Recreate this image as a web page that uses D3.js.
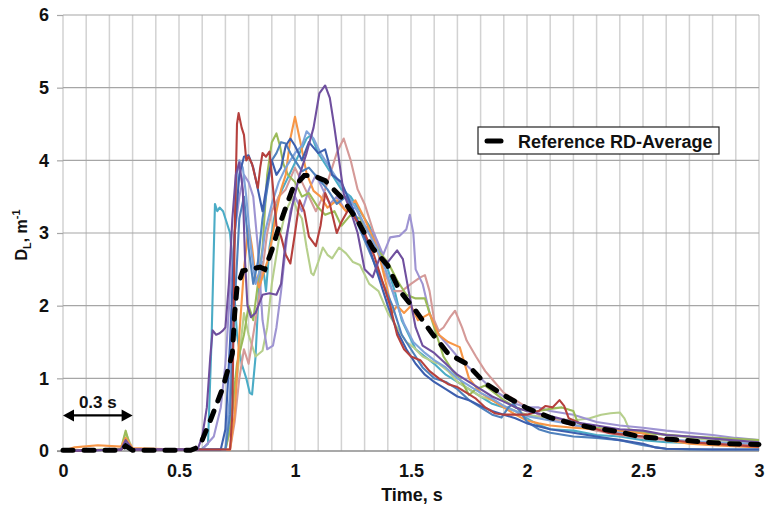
<!DOCTYPE html>
<html>
<head>
<meta charset="utf-8">
<script src="https://cdn.jsdelivr.net/npm/d3@7"></script>
<style>
    body { margin: 0; background: #fff; }
    svg text { font-family: "Liberation Sans", Arial, sans-serif; font-weight: bold; fill: #111; }
</style>
</head>
<body>
<div id="chart"></div>
<script>
// ---- data: [time s, D_L m^-1] ----
const xTicks = [0, 0.5, 1, 1.5, 2, 2.5, 3];
const yTicks = [0, 1, 2, 3, 4, 5, 6];
const xLabels = ['0', '0.5', '1', '1.5', '2', '2.5', '3'];

const teal = [[0,0],[0.25,0.02],[0.27,0.12],[0.3,0.02],[0.6,0.03],[0.625,0.1],[0.64,1.5],[0.655,3.4],[0.665,3.3],[0.675,3.35],[0.69,3.3],[0.7,3.2],[0.72,3.0],[0.73,2.6],[0.75,1.6],[0.77,1.2],[0.79,1.0],[0.805,0.8],[0.815,0.78],[0.83,1.3],[0.845,2.3],[0.86,2.6],[0.875,2.2],[0.89,2.8],[0.91,3.2],[0.93,3.5],[0.96,3.7],[0.99,3.9],[1.02,4.1],[1.05,4.3],[1.07,4.35],[1.1,4.1],[1.13,3.95],[1.16,3.8],[1.2,3.6],[1.24,3.5],[1.28,3.3],[1.32,3.1],[1.36,2.8],[1.4,2.5],[1.43,2.2],[1.46,1.8],[1.49,1.6],[1.52,1.4],[1.56,1.3],[1.6,1.2],[1.65,1.05],[1.7,0.95],[1.75,0.85],[1.8,0.75],[1.85,0.65],[1.9,0.6],[1.95,0.55],[2.0,0.45],[2.05,0.36],[2.1,0.3],[2.2,0.28],[2.3,0.22],[2.4,0.2],[2.5,0.15],[2.6,0.12],[2.8,0.1],[3.0,0.08]];
const red = [[0,0],[0.25,0.02],[0.27,0.08],[0.3,0.02],[0.72,0.02],[0.73,0.5],[0.74,3.0],[0.75,4.5],[0.757,4.65],[0.77,4.45],[0.78,4.35],[0.79,4.0],[0.8,4.05],[0.815,3.95],[0.83,3.75],[0.84,3.62],[0.85,3.9],[0.86,4.1],[0.875,4.05],[0.89,4.12],[0.9,3.8],[0.92,3.1],[0.94,2.95],[0.96,2.7],[0.98,2.58],[1.0,3.0],[1.02,3.45],[1.04,3.3],[1.06,2.95],[1.09,2.82],[1.11,3.1],[1.13,3.55],[1.15,3.4],[1.18,3.0],[1.2,3.15],[1.235,3.35],[1.26,3.2],[1.3,3.0],[1.34,2.7],[1.38,2.3],[1.41,2.0],[1.44,1.6],[1.47,1.4],[1.5,1.3],[1.54,1.25],[1.58,1.1],[1.62,1.0],[1.66,0.92],[1.7,0.88],[1.74,0.8],[1.78,0.72],[1.82,0.6],[1.86,0.52],[1.9,0.5],[1.95,0.5],[2.0,0.5],[2.05,0.55],[2.08,0.62],[2.11,0.6],[2.14,0.7],[2.16,0.62],[2.18,0.45],[2.25,0.35],[2.35,0.25],[2.5,0.2],[2.7,0.12],[3.0,0.06]];
const green = [[0,0],[0.25,0.03],[0.27,0.28],[0.29,0.05],[0.3,0.02],[0.7,0.02],[0.72,0.3],[0.75,1.2],[0.78,1.6],[0.8,2.0],[0.82,1.8],[0.84,2.3],[0.86,2.8],[0.88,3.8],[0.9,4.25],[0.92,4.37],[0.935,4.2],[0.95,3.95],[0.97,3.8],[1.0,3.7],[1.03,3.5],[1.06,3.55],[1.1,3.35],[1.13,3.25],[1.17,3.3],[1.2,3.1],[1.24,3.25],[1.28,3.2],[1.32,3.0],[1.36,2.75],[1.4,2.6],[1.44,2.35],[1.48,2.15],[1.52,2.1],[1.56,2.1],[1.6,1.7],[1.64,1.3],[1.68,1.1],[1.72,0.95],[1.75,0.77],[1.78,0.85],[1.82,0.9],[1.86,0.8],[1.9,0.7],[1.95,0.6],[2.0,0.55],[2.05,0.55],[2.1,0.58],[2.15,0.6],[2.2,0.55],[2.22,0.38],[2.3,0.32],[2.4,0.28],[2.5,0.25],[2.7,0.2],[3.0,0.15]];
const orange = [[0,0],[0.05,0.05],[0.15,0.08],[0.25,0.06],[0.27,0.18],[0.3,0.04],[0.5,0.02],[0.72,0.02],[0.74,0.5],[0.76,1.6],[0.78,2.5],[0.8,3.1],[0.815,2.8],[0.83,2.4],[0.845,2.25],[0.86,2.4],[0.88,2.6],[0.9,2.9],[0.92,3.3],[0.94,3.6],[0.96,3.8],[0.98,4.3],[1.0,4.6],[1.02,4.3],[1.05,3.82],[1.08,3.58],[1.11,3.5],[1.14,3.35],[1.18,3.45],[1.22,3.3],[1.26,3.45],[1.3,3.2],[1.34,2.9],[1.37,2.6],[1.4,2.2],[1.42,1.9],[1.44,2.0],[1.47,1.9],[1.5,2.0],[1.53,1.8],[1.58,1.89],[1.62,1.6],[1.66,1.5],[1.71,1.43],[1.75,1.0],[1.8,0.8],[1.85,0.7],[1.9,0.6],[1.95,0.5],[2.0,0.42],[2.05,0.38],[2.1,0.35],[2.2,0.32],[2.3,0.3],[2.4,0.28],[2.5,0.24],[2.6,0.15],[2.7,0.1],[2.8,0.08],[3.0,0.05]];
const purple = [[0,0],[0.25,0.02],[0.27,0.15],[0.3,0.02],[0.58,0.02],[0.6,0.2],[0.62,0.6],[0.635,1.3],[0.645,1.66],[0.66,1.6],[0.675,1.62],[0.69,1.66],[0.7,1.7],[0.715,2.3],[0.73,3.2],[0.745,3.8],[0.76,3.97],[0.775,3.6],[0.785,2.6],[0.795,2.0],[0.81,1.84],[0.83,1.9],[0.86,2.15],[0.89,2.17],[0.92,2.15],[0.94,2.3],[0.96,2.9],[0.99,3.4],[1.02,3.8],[1.05,4.1],[1.08,4.45],[1.105,4.92],[1.13,5.03],[1.15,4.86],[1.17,4.45],[1.19,4.0],[1.21,3.54],[1.24,3.3],[1.27,3.0],[1.3,2.5],[1.335,2.39],[1.365,2.66],[1.4,2.6],[1.44,2.76],[1.465,2.64],[1.49,2.2],[1.52,1.7],[1.55,1.45],[1.6,1.35],[1.65,1.2],[1.7,1.05],[1.75,0.95],[1.8,0.85],[1.85,0.75],[1.9,0.68],[1.95,0.6],[2.0,0.55],[2.1,0.48],[2.2,0.4],[2.3,0.35],[2.4,0.3],[2.5,0.28],[2.6,0.22],[2.7,0.2],[2.8,0.17],[3.0,0.12]];
const lavender = [[0,0],[0.25,0.02],[0.27,0.1],[0.3,0.02],[0.6,0.02],[0.65,0.2],[0.68,0.6],[0.7,1.2],[0.72,2.2],[0.74,3.0],[0.76,3.5],[0.78,3.8],[0.8,3.7],[0.82,3.5],[0.84,2.8],[0.86,1.8],[0.88,1.4],[0.905,1.45],[0.92,1.7],[0.94,2.2],[0.96,2.8],[0.98,3.3],[1.0,3.5],[1.03,3.3],[1.06,3.6],[1.09,3.8],[1.12,3.6],[1.15,3.4],[1.18,3.5],[1.22,3.3],[1.26,3.35],[1.3,3.1],[1.34,3.0],[1.38,2.7],[1.41,2.94],[1.45,2.96],[1.48,3.05],[1.495,3.25],[1.51,3.0],[1.52,2.5],[1.55,2.3],[1.58,1.9],[1.62,1.6],[1.66,1.45],[1.7,1.3],[1.75,1.15],[1.8,1.0],[1.85,0.85],[1.9,0.75],[1.95,0.65],[2.0,0.6],[2.05,0.6],[2.1,0.55],[2.2,0.5],[2.3,0.4],[2.4,0.35],[2.5,0.32],[2.6,0.28],[2.7,0.25],[2.8,0.22],[2.9,0.18],[3.0,0.15]];
const blue = [[0,0],[0.25,0.02],[0.27,0.1],[0.3,0.02],[0.7,0.02],[0.72,0.5],[0.74,2.0],[0.76,3.2],[0.78,3.5],[0.8,2.8],[0.82,2.3],[0.84,2.6],[0.86,3.2],[0.88,3.6],[0.9,4.0],[0.92,4.1],[0.94,4.25],[0.96,4.23],[0.98,4.1],[1.0,4.0],[1.03,3.85],[1.06,3.9],[1.1,3.75],[1.14,3.6],[1.18,3.4],[1.22,3.5],[1.26,3.2],[1.3,2.9],[1.34,2.6],[1.38,2.3],[1.42,2.0],[1.46,1.6],[1.5,1.4],[1.55,1.15],[1.6,1.0],[1.65,0.95],[1.7,0.85],[1.75,0.7],[1.8,0.6],[1.85,0.5],[1.89,0.46],[1.92,0.6],[1.94,0.65],[1.97,0.55],[2.0,0.4],[2.05,0.3],[2.1,0.25],[2.2,0.2],[2.3,0.18],[2.4,0.15],[2.5,0.08],[2.6,0.03],[2.7,0.02],[2.8,0.02],[3.0,0.02]];
const pink = [[0,0],[0.25,0.02],[0.27,0.12],[0.3,0.02],[0.72,0.02],[0.74,0.4],[0.76,1.0],[0.78,1.4],[0.8,1.2],[0.82,1.6],[0.84,2.0],[0.86,2.5],[0.88,3.0],[0.9,3.3],[0.93,3.5],[0.96,3.6],[1.0,3.9],[1.03,3.7],[1.06,3.5],[1.09,3.3],[1.12,3.5],[1.15,3.8],[1.18,4.1],[1.21,4.3],[1.24,4.0],[1.27,3.6],[1.3,3.4],[1.34,3.0],[1.38,2.5],[1.42,2.2],[1.46,2.2],[1.5,2.3],[1.54,2.39],[1.56,2.42],[1.58,2.2],[1.6,1.8],[1.62,1.65],[1.64,1.7],[1.67,1.85],[1.69,1.93],[1.72,1.7],[1.74,1.52],[1.78,1.3],[1.82,1.1],[1.86,0.95],[1.9,0.8],[1.95,0.7],[2.0,0.6],[2.05,0.5],[2.1,0.45],[2.2,0.35],[2.3,0.28],[2.4,0.22],[2.5,0.18],[2.6,0.15],[2.8,0.1],[3.0,0.08]];
const lightGreen = [[0,0],[0.25,0.02],[0.27,0.25],[0.3,0.03],[0.7,0.02],[0.72,0.3],[0.75,1.0],[0.78,1.9],[0.8,1.6],[0.83,1.3],[0.86,1.38],[0.88,1.7],[0.9,2.3],[0.93,2.9],[0.96,3.3],[0.99,3.5],[1.01,3.3],[1.03,3.2],[1.05,2.8],[1.07,2.45],[1.08,2.42],[1.1,2.6],[1.12,2.8],[1.14,2.7],[1.16,2.65],[1.19,2.8],[1.22,2.72],[1.25,2.6],[1.28,2.56],[1.32,2.3],[1.36,2.2],[1.4,1.9],[1.44,1.7],[1.48,1.5],[1.51,1.43],[1.55,1.3],[1.6,1.22],[1.62,1.2],[1.66,1.1],[1.7,0.95],[1.75,0.85],[1.8,0.75],[1.85,0.7],[1.9,0.62],[1.95,0.55],[2.0,0.5],[2.1,0.45],[2.2,0.42],[2.27,0.45],[2.32,0.5],[2.36,0.52],[2.4,0.53],[2.42,0.45],[2.44,0.3],[2.5,0.26],[2.6,0.22],[2.8,0.15],[3.0,0.12]];
const lightBlue = [[0,0],[0.25,0.02],[0.27,0.1],[0.3,0.02],[0.7,0.02],[0.72,0.8],[0.735,2.5],[0.75,3.8],[0.76,4.0],[0.775,3.9],[0.79,3.5],[0.81,2.8],[0.83,2.3],[0.85,2.5],[0.87,3.0],[0.9,3.4],[0.93,3.7],[0.96,3.9],[1.0,4.1],[1.03,4.2],[1.05,4.4],[1.08,4.3],[1.11,4.1],[1.15,3.9],[1.19,3.7],[1.23,3.5],[1.27,3.3],[1.31,3.05],[1.35,2.8],[1.39,2.5],[1.43,2.1],[1.47,1.75],[1.51,1.5],[1.56,1.35],[1.6,1.25],[1.65,1.15],[1.7,1.0],[1.75,0.9],[1.8,0.8],[1.85,0.72],[1.9,0.62],[1.95,0.55],[2.0,0.48],[2.1,0.42],[2.2,0.36],[2.3,0.3],[2.4,0.25],[2.5,0.2],[2.6,0.16],[2.8,0.12],[3.0,0.1]];
const darkBlue = [[0,0],[0.25,0.02],[0.27,0.1],[0.3,0.02],[0.68,0.02],[0.7,0.3],[0.72,1.5],[0.74,3.0],[0.76,3.8],[0.78,4.05],[0.8,4.07],[0.82,3.9],[0.84,3.6],[0.86,3.3],[0.88,3.7],[0.9,4.0],[0.92,3.8],[0.94,3.9],[0.96,4.2],[0.98,4.3],[1.0,4.2],[1.03,4.0],[1.06,4.25],[1.1,4.1],[1.13,4.15],[1.16,3.8],[1.2,3.7],[1.24,3.4],[1.28,3.1],[1.32,2.8],[1.36,2.4],[1.4,2.0],[1.44,1.65],[1.48,1.4],[1.52,1.2],[1.56,1.05],[1.6,0.95],[1.65,0.85],[1.7,0.75],[1.75,0.7],[1.8,0.62],[1.85,0.55],[1.9,0.5],[1.95,0.45],[2.0,0.38],[2.1,0.3],[2.2,0.25],[2.3,0.2],[2.4,0.15],[2.5,0.1],[2.55,0.05],[2.6,0.03],[2.8,0.02],[3.0,0.02]];
const average = [[0,0.01],[0.25,0.01],[0.27,0.07],[0.3,0.01],[0.55,0.01],[0.58,0.05],[0.6,0.15],[0.64,0.46],[0.69,0.88],[0.73,1.34],[0.74,1.89],[0.75,2.25],[0.775,2.48],[0.85,2.53],[0.87,2.5],[0.9,2.76],[0.93,3.08],[0.96,3.35],[0.99,3.61],[1.04,3.79],[1.08,3.79],[1.13,3.72],[1.2,3.49],[1.27,3.17],[1.335,2.79],[1.4,2.55],[1.45,2.21],[1.52,1.93],[1.59,1.62],[1.66,1.34],[1.74,1.2],[1.82,0.93],[1.91,0.75],[2.0,0.59],[2.1,0.46],[2.19,0.38],[2.28,0.32],[2.39,0.27],[2.48,0.2],[2.58,0.17],[2.67,0.15],[2.77,0.12],[2.87,0.1],[3.0,0.09]];

const runs = [
    { name: 'teal', values: teal, color: '#4BACC6' },
    { name: 'lightGreen', values: lightGreen, color: '#B6CF8C' },
    { name: 'pink', values: pink, color: '#D59A98' },
    { name: 'lavender', values: lavender, color: '#9E94D2' },
    { name: 'green', values: green, color: '#9BBB59' },
    { name: 'orange', values: orange, color: '#F79646' },
    { name: 'lightBlue', values: lightBlue, color: '#7FA3DA' },
    { name: 'blue', values: blue, color: '#4F81BD' },
    { name: 'darkBlue', values: darkBlue, color: '#3D5FAE' },
    { name: 'red', values: red, color: '#B5403D' },
    { name: 'purple', values: purple, color: '#6F4F9E' },
];
const legendLabel = 'Reference RD-Average';

// ---- layout ----
const WIDTH = 765, HEIGHT = 512;
const MARGIN = { top: 15, right: 6, bottom: 61, left: 63 };
const gW = WIDTH - MARGIN.left - MARGIN.right;
const gH = HEIGHT - MARGIN.top - MARGIN.bottom;

const svg = d3.select('#chart').append('svg')
    .attr('width', WIDTH).attr('height', HEIGHT);
const g = svg.append('g').attr('transform', `translate(${MARGIN.left},${MARGIN.top})`);

const x = d3.scaleLinear().domain([0, 3]).range([0, gW]);
const y = d3.scaleLinear().domain([0, 6]).range([gH, 0]);

// vertical grid every 0.1 s
const vGrid = d3.range(0, 31).map(i => i / 10);
g.append('g').selectAll('line').data(vGrid).enter().append('line')
    .attr('x1', d => x(d)).attr('x2', d => x(d))
    .attr('y1', 0).attr('y2', gH)
    .attr('stroke', '#d2d2d2').attr('stroke-width', 1.5);

// horizontal grid
g.append('g').selectAll('line').data(yTicks.slice(1)).enter().append('line')
    .attr('x1', 0).attr('x2', gW)
    .attr('y1', d => y(d)).attr('y2', d => y(d))
    .attr('stroke', '#a6a6a6').attr('stroke-width', 1.2);

// y axis
const yAxis = g.append('g').call(d3.axisLeft(y).tickValues(yTicks).tickSize(6).tickPadding(8).tickFormat(d3.format('d')));
yAxis.select('.domain').remove();
yAxis.selectAll('line').attr('stroke', '#a6a6a6').attr('stroke-width', 1.2);
yAxis.selectAll('text').style('font-size', '18px').style('font-family', '"Liberation Sans", Arial, sans-serif').attr('fill', '#111');

// x axis
const xAxis = g.append('g').attr('transform', `translate(0,${gH})`)
    .call(d3.axisBottom(x).tickValues(xTicks).tickSize(0).tickPadding(13).tickFormat((d, i) => xLabels[i]));
xAxis.select('.domain').attr('stroke', '#8c8c8c').attr('stroke-width', 1.5).attr('d', `M-6,0H${gW}`);
xAxis.selectAll('text').style('font-size', '18px').style('font-family', '"Liberation Sans", Arial, sans-serif').attr('fill', '#111');

// runs
const line = d3.line().x(d => x(d[0])).y(d => y(d[1]));
g.append('g').selectAll('path').data(runs).enter().append('path')
    .attr('d', d => line(d.values))
    .attr('fill', 'none')
    .attr('stroke', d => d.color)
    .attr('stroke-width', 2.1)
    .attr('stroke-linejoin', 'round');

// average
g.append('path')
    .attr('d', line(average))
    .attr('fill', 'none')
    .attr('stroke', '#000')
    .attr('stroke-width', 5)
    .attr('stroke-linecap', 'round')
    .attr('stroke-dasharray', '10,11');

// 0.3 s arrow
const arrowY = y(0.49);
g.append('line').attr('x1', x(0) + 4).attr('x2', x(0.3) - 4)
    .attr('y1', arrowY).attr('y2', arrowY)
    .attr('stroke', '#000').attr('stroke-width', 2.4);
[[x(0), 1], [x(0.3), -1]].forEach(([px, dir]) => {
    g.append('path')
        .attr('d', `M${px},${arrowY} l${dir * 11},-6 l0,12 Z`)
        .attr('fill', '#000');
});
g.append('text').attr('x', x(0.15)).attr('y', arrowY - 7)
    .attr('text-anchor', 'middle').style('font-size', '17px').text('0.3 s');

// legend
const leg = svg.append('g').attr('transform', 'translate(478,127)');
leg.append('rect').attr('width', 241).attr('height', 27)
    .attr('fill', '#fff').attr('stroke', '#222').attr('stroke-width', 1.2);
leg.append('line').attr('x1', 9).attr('x2', 23).attr('y1', 14).attr('y2', 14)
    .attr('stroke', '#000').attr('stroke-width', 5).attr('stroke-linecap', 'round');
leg.append('text').attr('x', 40).attr('y', 20.5).style('font-size', '18px').text(legendLabel);

// axis titles
svg.append('text').attr('x', 412).attr('y', 501)
    .attr('text-anchor', 'middle').style('font-size', '18px').text('Time, s');

const yTitle = svg.append('text')
    .attr('transform', 'translate(27,235) rotate(-90)')
    .attr('text-anchor', 'middle').style('font-size', '16px');
yTitle.append('tspan').text('D');
yTitle.append('tspan').attr('dy', 4).style('font-size', '11px').text('L');
yTitle.append('tspan').attr('dy', -4).text(', m');
yTitle.append('tspan').attr('dy', -7).style('font-size', '11px').text('-1');
</script>
</body>
</html>
